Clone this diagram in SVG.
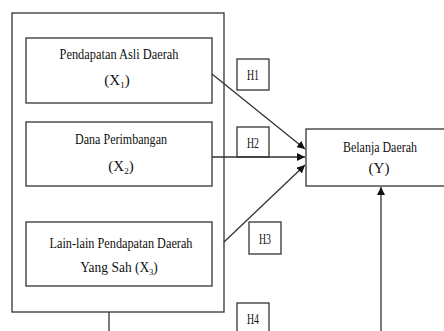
<svg xmlns="http://www.w3.org/2000/svg" width="444" height="331" viewBox="0 0 444 331">
<style>
.box{fill:#fff;stroke:#333;stroke-width:1.3}
.t{font-family:"Liberation Serif","Times New Roman",serif;font-size:15px;fill:#111;text-anchor:middle}
.sub{font-size:9px}
.ln{stroke:#333;stroke-width:1.3;fill:none}
</style>
<defs>
<marker id="ah" viewBox="0 0 10 10" refX="10" refY="5" markerWidth="8" markerHeight="8" markerUnits="userSpaceOnUse" orient="auto">
<path d="M0,0 L10,5 L0,10 z" fill="#111"/>
</marker>
</defs>
<rect width="444" height="331" fill="#fff"/>
<g id="outer"><rect class="box" x="12" y="13" width="212" height="299" fill="none"/></g>
<g id="x1">
<rect class="box" x="26" y="38" width="186" height="65"/>
<text class="t" x="119" y="59" textLength="119" lengthAdjust="spacingAndGlyphs">Pendapatan Asli Daerah</text>
<text class="t" x="117" y="85">(X<tspan class="sub" dy="3">1</tspan><tspan dy="-3">)</tspan></text>
</g>
<g id="x2">
<rect class="box" x="26" y="122" width="186" height="64"/>
<text class="t" x="121" y="144" textLength="92" lengthAdjust="spacingAndGlyphs">Dana Perimbangan</text>
<text class="t" x="121" y="171">(X<tspan class="sub" dy="3">2</tspan><tspan dy="-3">)</tspan></text>
</g>
<g id="x3">
<rect class="box" x="26" y="222" width="186" height="64"/>
<text class="t" x="121" y="248" textLength="143" lengthAdjust="spacingAndGlyphs">Lain-lain Pendapatan  Daerah</text>
<text class="t" x="119" y="272" transform="translate(119 0) scale(0.9 1) translate(-119 0)">Yang Sah (X<tspan class="sub" dy="3">3</tspan><tspan dy="-3">)</tspan></text>
</g>
<g id="y">
<rect class="box" x="306" y="129" width="145" height="57"/>
<text class="t" x="380" y="152" textLength="74" lengthAdjust="spacingAndGlyphs">Belanja Daerah</text>
<text class="t" x="379" y="173">(Y)</text>
</g>
<g id="h1"><rect class="box" x="237" y="59" width="32" height="31"/><text class="t" x="253" y="80" textLength="12" lengthAdjust="spacingAndGlyphs">H1</text></g>
<g id="h2"><rect class="box" x="237" y="127" width="32" height="30"/><text class="t" x="253" y="148" textLength="12" lengthAdjust="spacingAndGlyphs">H2</text></g>
<g id="h3"><rect class="box" x="249" y="222" width="32" height="32"/><text class="t" x="265" y="244" textLength="12" lengthAdjust="spacingAndGlyphs">H3</text></g>
<g id="h4"><rect class="box" x="237" y="303" width="32" height="35"/><text class="t" x="253" y="324" textLength="12" lengthAdjust="spacingAndGlyphs">H4</text></g>
<g id="connectors">
<line class="ln" x1="212" y1="74" x2="305" y2="149" marker-end="url(#ah)"/>
<line class="ln" x1="212" y1="157" x2="305" y2="157" marker-end="url(#ah)"/>
<line class="ln" x1="224" y1="242" x2="305" y2="165" marker-end="url(#ah)"/>
<line class="ln" x1="381" y1="331" x2="381" y2="187" stroke="#777" marker-end="url(#ah)"/>
<line class="ln" x1="109" y1="312" x2="109" y2="331"/>
</g>
</svg>
